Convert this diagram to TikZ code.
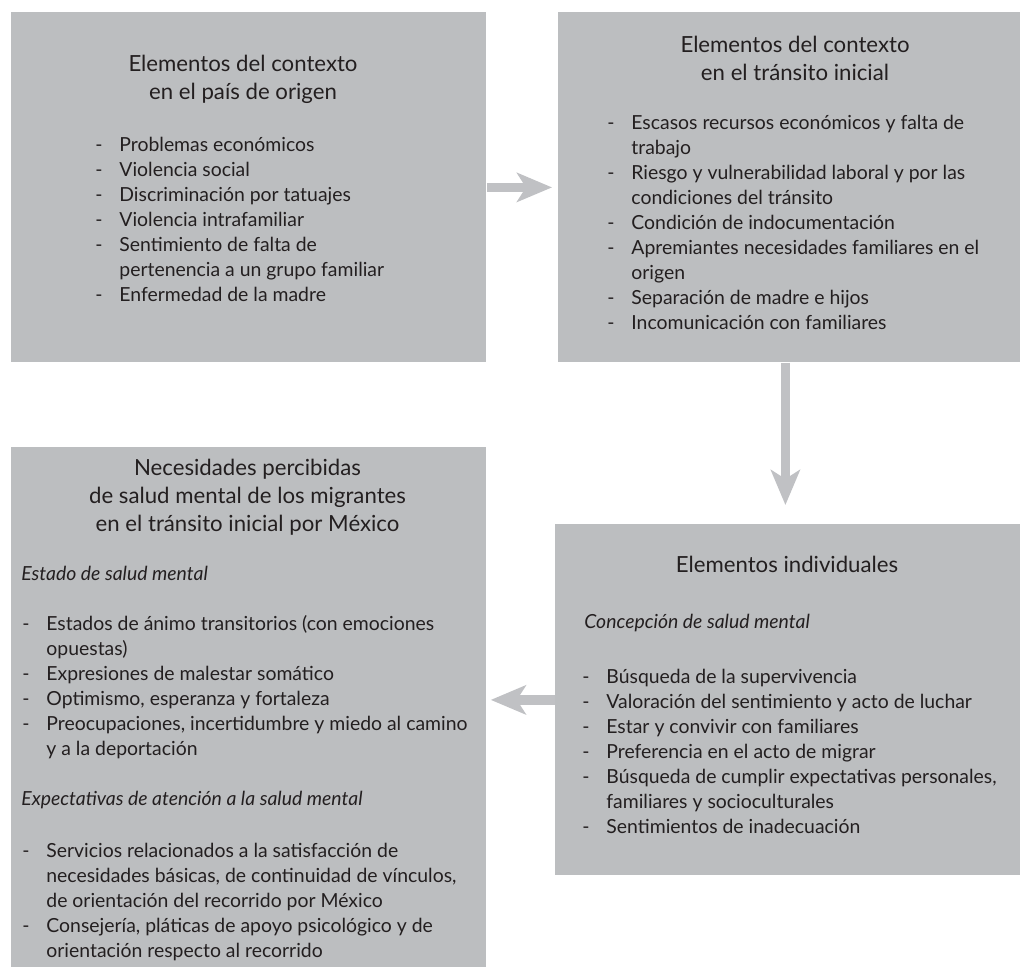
\documentclass[tikz,border=0pt]{standalone}
\usepackage{fontspec}
\setmainfont{Lato}
\usetikzlibrary{arrows.meta}

\definecolor{panelgray}{RGB}{188,190,192}
\definecolor{flowgray}{RGB}{192,193,196}
\definecolor{ink}{RGB}{35,31,32}

\newcommand{\bodyfont}{\fontsize{9.7}{12.5}\selectfont}
\newcommand{\headfont}{\fontsize{11.1}{14}\selectfont}
\newcommand{\itm}{\makebox[12pt][l]{-}}
\newcommand{\cont}{\hspace*{12pt}}

\tikzset{
  panel/.style={fill=panelgray, anchor=north west, inner sep=0pt},
  head/.style={anchor=base, inner sep=0pt, text=ink, font=\headfont},
  items/.style={anchor=base west, inner sep=0pt, text=ink, font=\bodyfont},
  flow/.style={draw=flowgray, line width=4.75pt,
    -{Stealth[length=17.5pt, width=14.5pt, inset=4.5pt]}},
}

\begin{document}
\begin{tikzpicture}[x=0.5pt, y=-0.5pt]
  \useasboundingbox (0,0) rectangle (1020,967);

  % panels
  \node[panel, minimum width=237.5pt, minimum height=175pt] (origen) at (11,12) {};
  \node[panel, minimum width=231pt, minimum height=175pt] (transito) at (558,12) {};
  \node[panel, minimum width=237.5pt, minimum height=260pt] (necesidades) at (11,447) {};
  \node[panel, minimum width=232.5pt, minimum height=175.5pt] (individuales) at (555,524) {};

  % arrows
  \draw[flow, shorten >=3pt] (origen) -- (transito);
  \draw[flow, shorten >=9.5pt] ([xshift=-2pt]transito.south) -- ([xshift=-2pt]transito.south |- individuales.north);
  \draw[flow, shorten >=2pt] (individuales.west) -- (individuales.west -| necesidades.east);

  % pais de origen
  \node[head] (origenT) at (243,72) {\begin{tabular}[t]{@{}c@{}}Elementos del contexto\\en el país de origen\end{tabular}};
  \node[items] (origenL) at (95,152) {\begin{tabular}[t]{@{}l@{}}
    \itm Problemas económicos\\
    \itm Violencia social\\
    \itm Discriminación por tatuajes\\
    \itm Violencia intrafamiliar\\
    \itm Sentimiento de falta de\\
    \cont pertenencia a un grupo familiar\\
    \itm Enfermedad de la madre
  \end{tabular}};

  % transito inicial
  \node[head] (transitoT) at (795,53) {\begin{tabular}[t]{@{}c@{}}Elementos del contexto\\en el tránsito inicial\end{tabular}};
  \node[items] (transitoL) at (607,130) {\begin{tabular}[t]{@{}l@{}}
    \itm Escasos recursos económicos y falta de\\
    \cont trabajo\\
    \itm Riesgo y vulnerabilidad laboral y por las\\
    \cont condiciones del tránsito\\
    \itm Condición de indocumentación\\
    \itm Apremiantes necesidades familiares en el\\
    \cont origen\\
    \itm Separación de madre e hijos\\
    \itm Incomunicación con familiares
  \end{tabular}};

  % individuales
  \node[head] (individualesT) at (787,572) {Elementos individuales};
  \node[items, font=\bodyfont\itshape] (concepcion) at (584,628) {Concepción de salud mental};
  \node[items] (individualesL) at (582,683) {\begin{tabular}[t]{@{}l@{}}
    \itm Búsqueda de la supervivencia\\
    \itm Valoración del sentimiento y acto de luchar\\
    \itm Estar y convivir con familiares\\
    \itm Preferencia en el acto de migrar\\
    \itm Búsqueda de cumplir expectativas personales,\\
    \cont familiares y socioculturales\\
    \itm Sentimientos de inadecuación
  \end{tabular}};

  % necesidades percibidas
  \node[head] (necesidadesT) at (247.5,475) {\begin{tabular}[t]{@{}c@{}}Necesidades percibidas\\de salud mental de los migrantes\\en el tránsito inicial por México\end{tabular}};
  \node[items, font=\bodyfont\itshape] (estado) at (21,580) {Estado de salud mental};
  \node[items] (estadoL) at (22,630) {\begin{tabular}[t]{@{}l@{}}
    \itm Estados de ánimo transitorios (con emociones\\
    \cont opuestas)\\
    \itm Expresiones de malestar somático\\
    \itm Optimismo, esperanza y fortaleza\\
    \itm Preocupaciones, incertidumbre y miedo al camino\\
    \cont y a la deportación
  \end{tabular}};
  \node[items, font=\bodyfont\itshape] (expectativas) at (21,805) {Expectativas de atención a la salud mental};
  \node[items] (expectativasL) at (22,857) {\begin{tabular}[t]{@{}l@{}}
    \itm Servicios relacionados a la satisfacción de\\
    \cont necesidades básicas, de continuidad de vínculos,\\
    \cont de orientación del recorrido por México\\
    \itm Consejería, pláticas de apoyo psicológico y de\\
    \cont orientación respecto al recorrido
  \end{tabular}};
\end{tikzpicture}
\end{document}
